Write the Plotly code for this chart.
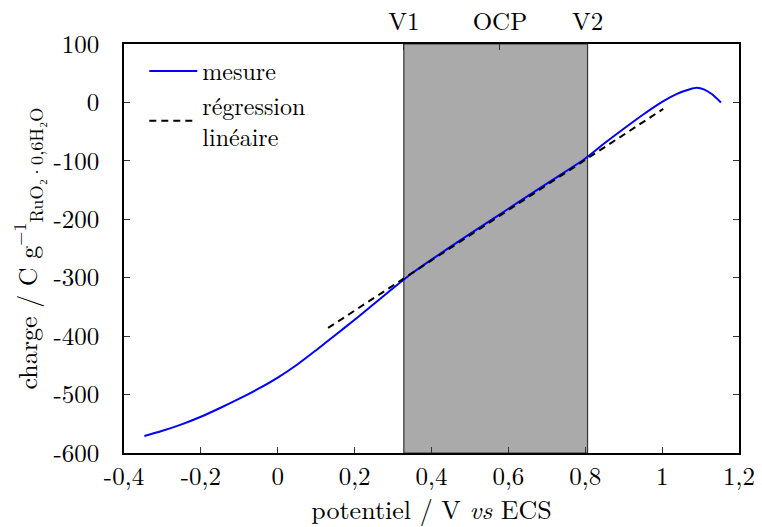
import plotly.graph_objects as go

# Data
pot_mesure = [-0.347, -0.3, -0.25, -0.2, -0.15, -0.1, -0.05, 0.0, 0.05, 0.1, 0.15, 0.2, 0.25,
              0.3, 0.35, 0.4, 0.5, 0.6, 0.7, 0.8, 0.85, 0.9, 0.95, 1.0, 1.04, 1.07, 1.09, 1.11,
              1.13, 1.153]
charge_mesure = [-571, -562, -551, -538, -523, -507, -490, -471, -449, -424, -398, -372, -345,
                 -318, -292, -269, -225, -182, -139, -96, -70, -45, -21, 1, 15, 22, 25, 22,
                 14, 0]

pot_reg = [0.131, 1.003]
charge_reg = [-386, -11]

V1, OCP, V2 = 0.328, 0.578, 0.806
top_ticks = [V1, OCP, V2]
top_labels = ["V1", "OCP", "V2"]

x_ticks = [-0.4, -0.2, 0, 0.2, 0.4, 0.6, 0.8, 1.0, 1.2]
x_labels = ["-0,4", "-0,2", "0", "0,2", "0,4", "0,6", "0,8", "1", "1,2"]
y_ticks = [-600, -500, -400, -300, -200, -100, 0, 100]
y_labels = ["-600", "-500", "-400", "-300", "-200", "-100", "0", "100"]

FONT = "Latin Modern Roman, Liberation Serif, serif"
FS = 25
FS_TITLE = 26

fig = go.Figure()
fig.add_trace(go.Scatter(x=pot_mesure, y=charge_mesure, mode="lines", name="mesure",
                         line=dict(color="#0000ff", width=2, shape="spline", smoothing=0.8)))
fig.add_trace(go.Scatter(x=pot_reg, y=charge_reg, mode="lines", name="régression<br>linéaire",
                         line=dict(color="black", width=2, dash="7px,5px")))
# invisible trace to activate the top axis
fig.add_trace(go.Scatter(x=[OCP], y=[0], xaxis="x2", mode="markers",
                         marker=dict(opacity=0), showlegend=False, hoverinfo="skip"))

fig.add_shape(type="rect", xref="x", yref="y", x0=V1, x1=V2, y0=-600, y1=100,
              fillcolor="#aaaaaa", line=dict(color="#333333", width=1.2), layer="below")

fig.update_layout(
    width=762, height=527,
    margin=dict(l=124, r=23, t=44, b=74),
    plot_bgcolor="white", paper_bgcolor="white",
    font=dict(family=FONT, size=FS, color="black"),
    showlegend=True,
    legend=dict(x=0.033, y=0.988, xanchor="left", yanchor="top",
                bgcolor="rgba(0,0,0,0)", font=dict(family=FONT, size=24),
                itemwidth=48, tracegroupgap=0),
    xaxis=dict(range=[-0.4, 1.2], tickvals=x_ticks, ticktext=x_labels,
               ticks="inside", ticklen=6, tickcolor="#333333", tickwidth=1,
               ticklabelstandoff=0, automargin=False,
               showline=True, linecolor="black", linewidth=1.5, mirror=True,
               showgrid=False, zeroline=False,
               title=dict(text="potentiel / V <i>vs</i> ECS", standoff=0,
                          font=dict(size=FS_TITLE))),
    xaxis2=dict(range=[-0.4, 1.2], overlaying="x", side="top", anchor="y",
                tickvals=top_ticks, ticktext=top_labels,
                ticks="inside", ticklen=6, tickcolor="#333333", tickwidth=1,
                ticklabelstandoff=8, automargin=False,
                showline=False, showgrid=False, zeroline=False),
    yaxis=dict(range=[-600, 100], tickvals=y_ticks, ticktext=y_labels,
               ticks="inside", ticklen=6, tickcolor="#333333", tickwidth=1,
               ticklabelstandoff=18, automargin=False,
               showline=True, linecolor="black", linewidth=1.5, mirror="ticks",
               showgrid=False, zeroline=False,
               title=dict(text="charge / C g<sup>−1</sup><sub>RuO₂·0,6H₂O</sub>", standoff=8,
                          font=dict(size=FS_TITLE))),
)

fig.write_html("out.html")
